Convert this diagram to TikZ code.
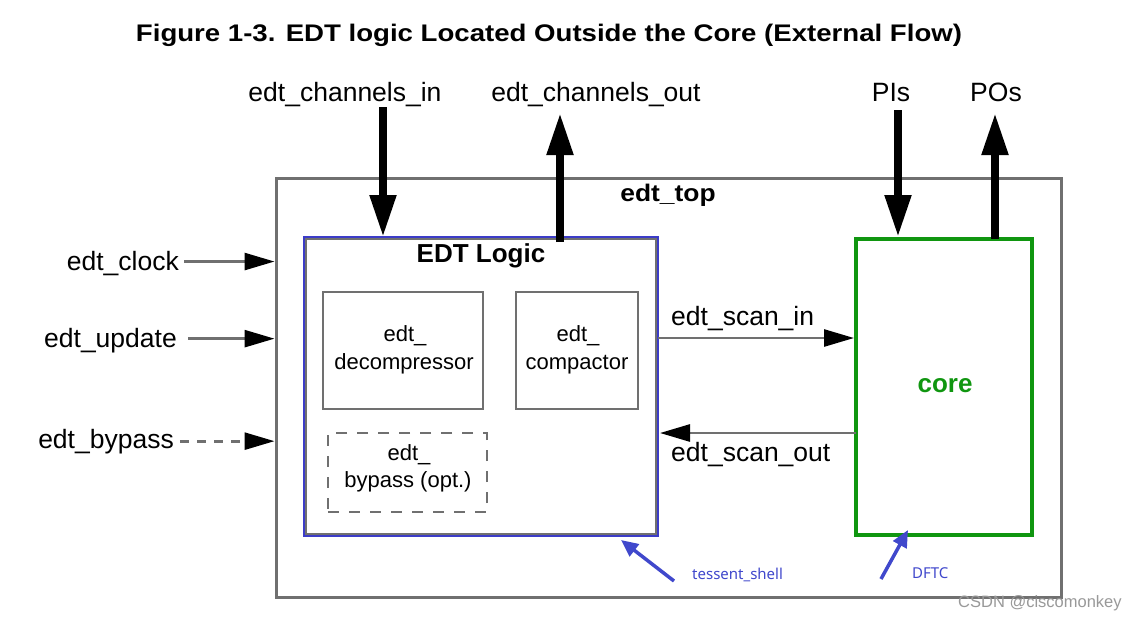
\documentclass[tikz,border=0pt]{standalone}
\usepackage{fontspec}
\setmainfont{Liberation Sans}
\newfontfamily\notosans{Noto Sans}
\usetikzlibrary{arrows.meta}
\definecolor{lgray}{RGB}{112,112,112}
\definecolor{eblue}{RGB}{60,60,200}
\definecolor{ablue}{RGB}{64,72,204}
\definecolor{cgreen}{RGB}{16,150,16}
\begin{document}
\begin{tikzpicture}[x=1pt,y=-1pt,
  box/.style={draw=lgray, line width=2.5pt, inner sep=0pt, outer sep=0pt},
  btext/.style={inner sep=0pt, anchor=base, font=\fontsize{22}{24}\selectfont},
  lbl/.style={inner sep=0pt, font=\fontsize{26.5}{30}\selectfont},
  big/.style={line width=8pt, -{Triangle[width=25pt,length=42pt]}},
  small/.style={draw=lgray, line width=2.7pt, -{Triangle[width=17pt,length=30pt,color=black]}},
  note/.style={draw=ablue, line width=3.5pt, -{Triangle[width=15pt,length=17pt,color=ablue]}},
  ntext/.style={text=ablue, inner sep=0pt, anchor=base west, font=\notosans\fontsize{15}{16}\selectfont}]
\useasboundingbox (0,0) rectangle (1133,619);
\fill[white] (0,0) rectangle (1133,619);

% title
\node[inner sep=0pt, anchor=base] (title) at (549,41.7)
  {\scalebox{1.15}[1]{\fontsize{24}{28}\selectfont\bfseries Figure 1-3. EDT logic Located Outside the Core (External Flow)}};

% edt_top
\node[box, line width=3pt, minimum width=785pt, minimum height=419pt] (top) at (668.5,387.5) {};
\node[inner sep=0pt, anchor=base, font=\fontsize{24}{28}\selectfont\bfseries] (toplbl) at (668,201.7) {\scalebox{1.1}[1]{edt\_top}};

% EDT logic
\node[box, minimum width=350pt, minimum height=295pt] (logic) at (481,386.5) {};
\node[draw=eblue, line width=1.5pt, inner sep=0pt, outer sep=0pt, minimum width=354pt, minimum height=299pt] (shell) at (481,386.5) {};
\node[inner sep=0pt, anchor=base, font=\fontsize{26}{28}\selectfont\bfseries] (logiclbl) at (481,262.7) {EDT Logic};

\node[box, minimum width=160pt, minimum height=117pt] (dec) at (403,350.5) {};
\node[btext] (dec1) at (405,341.7) {edt\_};
\node[btext] (dec2) at (404,369) {decompressor};

\node[box, minimum width=122pt, minimum height=117pt] (comp) at (577,350.5) {};
\node[btext] (comp1) at (578,341.7) {edt\_};
\node[btext] (comp2) at (577,369) {compactor};

\node[box, dash pattern=on 11pt off 10pt, minimum width=159pt, minimum height=79pt] (byp) at (407.5,472.5) {};
\node[btext] (byp1) at (409,460) {edt\_};
\node[btext] (byp2) at (408,487) {bypass (opt.)};

% core
\node[draw=cgreen, line width=4.5pt, inner sep=0pt, outer sep=0pt, minimum width=176pt, minimum height=296pt] (core) at (944,387) {};
\node[inner sep=0pt, anchor=base, text=cgreen, font=\fontsize{26}{28}\selectfont\bfseries] (corelbl) at (945,392) {core};

% top labels and thick arrows
\node[lbl, anchor=base] (cinl) at (345,101.7) {edt\_channels\_in};
\node[lbl, anchor=base] (coutl) at (596,101.7) {edt\_channels\_out};
\node[lbl, anchor=base] (pil) at (891,101.7) {PIs};
\node[lbl, anchor=base] (pol) at (996,101.7) {POs};
\coordinate (cin) at (383,107);
\coordinate (cout) at (560,113);
\coordinate (pi) at (898,110);
\coordinate (po) at (995,113);
\draw[big] (cin) -- (cin |- shell.north);
\draw[big] ([yshift=-3pt]logic.north -| cout) -- (cout);
\draw[big] (pi) -- ([yshift=2pt]pi |- core.north);
\draw[big] (core.north -| po) -- (po);

% left inputs
\node[lbl, anchor=base east] (clk) at (179,270) {edt\_clock};
\node[lbl, anchor=base east] (upd) at (177,347) {edt\_update};
\node[lbl, anchor=base east] (bypl) at (174,448) {edt\_bypass};
\draw[small, shorten >=1.5pt] ([xshift=5pt,yshift=1.5pt]clk.east) -- ([yshift=1.5pt]clk.east -| top.west);
\draw[small, shorten >=1.5pt] ([xshift=11pt,yshift=1.5pt]upd.east) -- ([yshift=1.5pt]upd.east -| top.west);
\draw[small, shorten >=1.5pt, dash pattern=on 9pt off 8pt] ([xshift=6pt]bypl.east) -- (bypl.east -| top.west);

% scan in / out
\coordinate (si) at (0,338);
\coordinate (so) at (0,433);
\node[lbl, anchor=base west] (sil) at (671,325) {edt\_scan\_in};
\node[lbl, anchor=base west] (sol) at (671,461.7) {edt\_scan\_out};
\draw[small, shorten >=2pt] (si -| shell.east) -- (si -| core.west);
\draw[small, shorten >=2pt] (so -| core.west) -- (so -| shell.east);

% notes
\node[ntext] (tsl) at (692,579) {tessent\_shell};
\node[ntext] (dftl) at (912,578) {DFTC};
\coordinate (tsA) at (674,581);
\coordinate (tsB) at (621,540);
\coordinate (dfA) at (881,579);
\coordinate (dfB) at (908,530);
\draw[note] (tsA) -- (tsB);
\draw[note] (dfA) -- (dfB);

% watermark
\node[inner sep=0pt, anchor=base west, text=gray!80, font=\fontsize{16.5}{18}\selectfont] (wm) at (958,607) {CSDN @ciscomonkey};
\end{tikzpicture}
\end{document}
